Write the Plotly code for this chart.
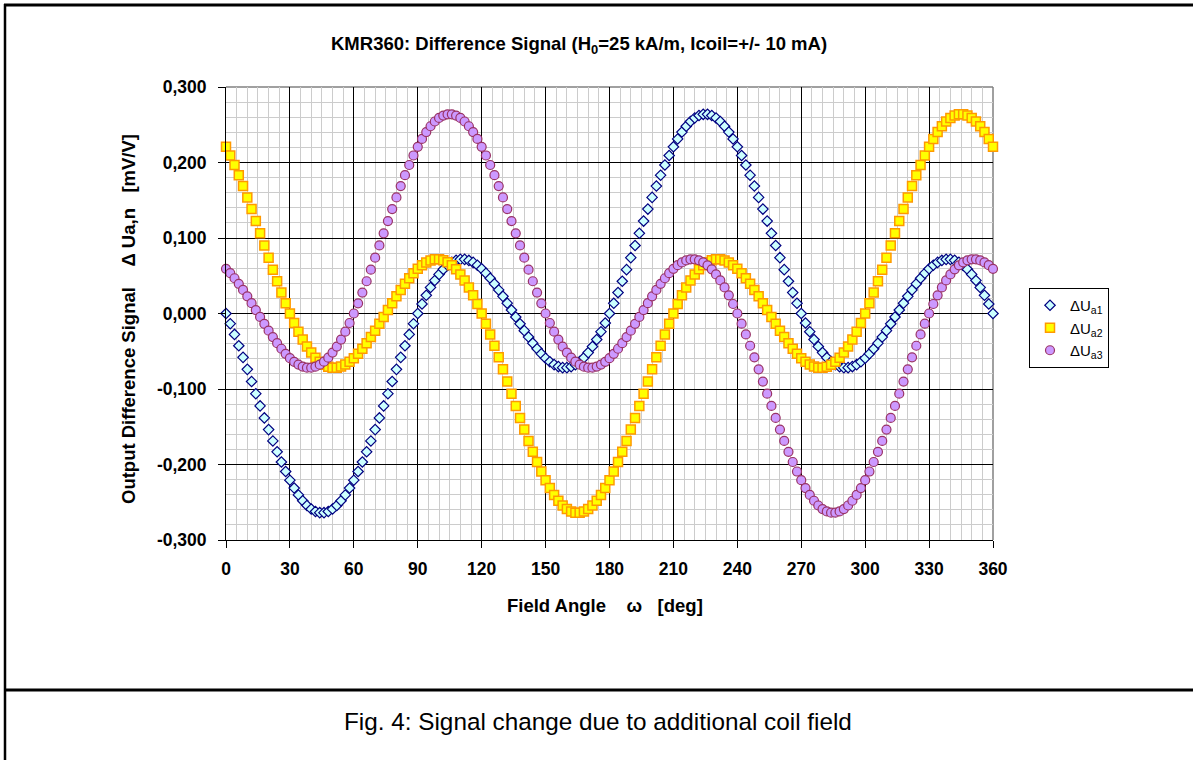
import plotly.graph_objects as go

# ---------------- data ----------------
angle_deg = list(range(0, 361, 2))

dUa1 = [
    0.0000, -0.0135, -0.0277, -0.0427, -0.0581, -0.0740, -0.0901, -0.1062, -0.1224, -0.1383,
    -0.1538, -0.1688, -0.1832, -0.1967, -0.2093, -0.2208, -0.2312, -0.2403, -0.2480, -0.2543,
    -0.2590, -0.2622, -0.2638, -0.2638, -0.2622, -0.2590, -0.2543, -0.2480, -0.2403, -0.2312,
    -0.2208, -0.2093, -0.1967, -0.1832, -0.1688, -0.1538, -0.1383, -0.1224, -0.1062, -0.0901,
    -0.0740, -0.0581, -0.0427, -0.0277, -0.0135, 0.0000, 0.0126, 0.0241, 0.0345, 0.0438,
    0.0518, 0.0585, 0.0638, 0.0678, 0.0704, 0.0717, 0.0717, 0.0703, 0.0677, 0.0640,
    0.0592, 0.0534, 0.0467, 0.0393, 0.0312, 0.0227, 0.0137, 0.0046, -0.0046, -0.0137,
    -0.0227, -0.0312, -0.0393, -0.0467, -0.0534, -0.0592, -0.0640, -0.0677, -0.0703, -0.0717,
    -0.0717, -0.0704, -0.0678, -0.0638, -0.0585, -0.0518, -0.0438, -0.0345, -0.0241, -0.0126,
    0.0000, 0.0135, 0.0277, 0.0427, 0.0581, 0.0740, 0.0901, 0.1062, 0.1224, 0.1383,
    0.1538, 0.1688, 0.1832, 0.1967, 0.2093, 0.2208, 0.2312, 0.2403, 0.2480, 0.2543,
    0.2590, 0.2622, 0.2638, 0.2638, 0.2622, 0.2590, 0.2543, 0.2480, 0.2403, 0.2312,
    0.2208, 0.2093, 0.1967, 0.1832, 0.1688, 0.1538, 0.1383, 0.1224, 0.1062, 0.0901,
    0.0740, 0.0581, 0.0427, 0.0277, 0.0135, 0.0000, -0.0126, -0.0241, -0.0345, -0.0438,
    -0.0518, -0.0585, -0.0638, -0.0678, -0.0704, -0.0717, -0.0717, -0.0703, -0.0677, -0.0640,
    -0.0592, -0.0534, -0.0467, -0.0393, -0.0312, -0.0227, -0.0137, -0.0046, 0.0046, 0.0137,
    0.0227, 0.0312, 0.0393, 0.0467, 0.0534, 0.0592, 0.0640, 0.0677, 0.0703, 0.0717,
    0.0717, 0.0704, 0.0678, 0.0638, 0.0585, 0.0518, 0.0438, 0.0345, 0.0241, 0.0126,
    0.0000,
]

dUa2 = [
    0.2208, 0.2093, 0.1967, 0.1832, 0.1688, 0.1538, 0.1383, 0.1224, 0.1062, 0.0901,
    0.0740, 0.0581, 0.0427, 0.0277, 0.0135, 0.0000, -0.0126, -0.0241, -0.0345, -0.0438,
    -0.0518, -0.0585, -0.0638, -0.0678, -0.0704, -0.0717, -0.0717, -0.0703, -0.0677, -0.0640,
    -0.0592, -0.0534, -0.0467, -0.0393, -0.0312, -0.0227, -0.0137, -0.0046, 0.0046, 0.0137,
    0.0227, 0.0312, 0.0393, 0.0467, 0.0534, 0.0592, 0.0640, 0.0677, 0.0703, 0.0717,
    0.0717, 0.0704, 0.0678, 0.0638, 0.0585, 0.0518, 0.0438, 0.0345, 0.0241, 0.0126,
    0.0000, -0.0135, -0.0277, -0.0427, -0.0581, -0.0740, -0.0901, -0.1062, -0.1224, -0.1383,
    -0.1538, -0.1688, -0.1832, -0.1967, -0.2093, -0.2208, -0.2312, -0.2403, -0.2480, -0.2543,
    -0.2590, -0.2622, -0.2638, -0.2638, -0.2622, -0.2590, -0.2543, -0.2480, -0.2403, -0.2312,
    -0.2208, -0.2093, -0.1967, -0.1832, -0.1688, -0.1538, -0.1383, -0.1224, -0.1062, -0.0901,
    -0.0740, -0.0581, -0.0427, -0.0277, -0.0135, 0.0000, 0.0126, 0.0241, 0.0345, 0.0438,
    0.0518, 0.0585, 0.0638, 0.0678, 0.0704, 0.0717, 0.0717, 0.0703, 0.0677, 0.0640,
    0.0592, 0.0534, 0.0467, 0.0393, 0.0312, 0.0227, 0.0137, 0.0046, -0.0046, -0.0137,
    -0.0227, -0.0312, -0.0393, -0.0467, -0.0534, -0.0592, -0.0640, -0.0677, -0.0703, -0.0717,
    -0.0717, -0.0704, -0.0678, -0.0638, -0.0585, -0.0518, -0.0438, -0.0345, -0.0241, -0.0126,
    0.0000, 0.0135, 0.0277, 0.0427, 0.0581, 0.0740, 0.0901, 0.1062, 0.1224, 0.1383,
    0.1538, 0.1688, 0.1832, 0.1967, 0.2093, 0.2208, 0.2312, 0.2403, 0.2480, 0.2543,
    0.2590, 0.2622, 0.2638, 0.2638, 0.2622, 0.2590, 0.2543, 0.2480, 0.2403, 0.2312,
    0.2208,
]

dUa3 = [
    0.0592, 0.0534, 0.0467, 0.0393, 0.0312, 0.0227, 0.0137, 0.0046, -0.0046, -0.0137,
    -0.0227, -0.0312, -0.0393, -0.0467, -0.0534, -0.0592, -0.0640, -0.0677, -0.0703, -0.0717,
    -0.0717, -0.0704, -0.0678, -0.0638, -0.0585, -0.0518, -0.0438, -0.0345, -0.0241, -0.0126,
    0.0000, 0.0135, 0.0277, 0.0427, 0.0581, 0.0740, 0.0901, 0.1062, 0.1224, 0.1383,
    0.1538, 0.1688, 0.1832, 0.1967, 0.2093, 0.2208, 0.2312, 0.2403, 0.2480, 0.2543,
    0.2590, 0.2622, 0.2638, 0.2638, 0.2622, 0.2590, 0.2543, 0.2480, 0.2403, 0.2312,
    0.2208, 0.2093, 0.1967, 0.1832, 0.1688, 0.1538, 0.1383, 0.1224, 0.1062, 0.0901,
    0.0740, 0.0581, 0.0427, 0.0277, 0.0135, 0.0000, -0.0126, -0.0241, -0.0345, -0.0438,
    -0.0518, -0.0585, -0.0638, -0.0678, -0.0704, -0.0717, -0.0717, -0.0703, -0.0677, -0.0640,
    -0.0592, -0.0534, -0.0467, -0.0393, -0.0312, -0.0227, -0.0137, -0.0046, 0.0046, 0.0137,
    0.0227, 0.0312, 0.0393, 0.0467, 0.0534, 0.0592, 0.0640, 0.0677, 0.0703, 0.0717,
    0.0717, 0.0704, 0.0678, 0.0638, 0.0585, 0.0518, 0.0438, 0.0345, 0.0241, 0.0126,
    0.0000, -0.0135, -0.0277, -0.0427, -0.0581, -0.0740, -0.0901, -0.1062, -0.1224, -0.1383,
    -0.1538, -0.1688, -0.1832, -0.1967, -0.2093, -0.2208, -0.2312, -0.2403, -0.2480, -0.2543,
    -0.2590, -0.2622, -0.2638, -0.2638, -0.2622, -0.2590, -0.2543, -0.2480, -0.2403, -0.2312,
    -0.2208, -0.2093, -0.1967, -0.1832, -0.1688, -0.1538, -0.1383, -0.1224, -0.1062, -0.0901,
    -0.0740, -0.0581, -0.0427, -0.0277, -0.0135, 0.0000, 0.0126, 0.0241, 0.0345, 0.0438,
    0.0518, 0.0585, 0.0638, 0.0678, 0.0704, 0.0717, 0.0717, 0.0703, 0.0677, 0.0640,
    0.0592,
]

series_names = ["ΔU<sub>a1</sub>", "ΔU<sub>a2</sub>", "ΔU<sub>a3</sub>"]

x_tick_vals = [0, 30, 60, 90, 120, 150, 180, 210, 240, 270, 300, 330, 360]
x_tick_text = ["0", "30", "60", "90", "120", "150", "180", "210", "240", "270", "300", "330", "360"]
y_tick_vals = [-0.3, -0.2, -0.1, 0.0, 0.1, 0.2, 0.3]
y_tick_text = ["-0,300", "-0,200", "-0,100", "0,000", "0,100", "0,200", "0,300"]

title_text = "KMR360: Difference Signal (H<sub>0</sub>=25 kA/m, Icoil=+/- 10 mA)"
nb = "\u00a0"
y_title_text = "Output Difference Signal" + nb * 4 + "Δ Ua,n" + nb * 3 + "[mV/V]"
x_title_text = "Field Angle" + nb * 4 + "ω" + nb * 3 + "[deg]"
caption_text = "Fig. 4: Signal change due to additional coil field"

# ---------------- figure ----------------
FONT = "Liberation Sans, Arial, Helvetica, sans-serif"
W, H = 1193, 760
ML, MR, MT, MB = 226, 200, 87, 220
PW, PH = W - ML - MR, H - MT - MB


def px_x(p):
    return (p - ML) / PW


def px_y(p):
    return (H - MB - p) / PH


fig = go.Figure()

styles = [
    dict(symbol="diamond", size=8, color="#CCFFFF", line=dict(color="#000080", width=1.2)),
    dict(symbol="square", size=9, color="#FFFF00", line=dict(color="#FF9900", width=1.5)),
    dict(symbol="circle", size=9, color="#CC99FF", line=dict(color="#993366", width=1.2)),
]
for name, ys, st in zip(series_names, [dUa1, dUa2, dUa3], styles):
    fig.add_trace(go.Scatter(x=angle_deg, y=ys, mode="markers", name=name,
                             marker=st, cliponaxis=False))

tickfont = dict(family=FONT, size=17.5, color="#000000", weight="bold")

fig.update_layout(
    width=W, height=H,
    margin=dict(l=ML, r=MR, t=MT, b=MB, pad=0),
    paper_bgcolor="#FFFFFF", plot_bgcolor="#FFFFFF",
    showlegend=True,
    legend=dict(x=px_x(1029), y=px_y(288), xanchor="left", yanchor="top",
                bordercolor="#000000", borderwidth=1, bgcolor="#FFFFFF",
                font=dict(family=FONT, size=15, color="#000000"),
                itemwidth=30, tracegroupgap=0),
    xaxis=dict(range=[0, 360], tickmode="array", tickvals=x_tick_vals, ticktext=x_tick_text,
               showgrid=True, gridcolor="#000000", gridwidth=1,
               ticks="outside", ticklen=7, tickcolor="#000000", tickwidth=1,
               showline=True, linecolor="#000000", linewidth=1, zeroline=False,
               tickfont=tickfont, ticklabelstandoff=6,
               minor=dict(tickmode="linear", tick0=0, dtick=5, showgrid=True,
                          gridcolor="#CCCCCC", gridwidth=1, ticks=""),
               fixedrange=True),
    yaxis=dict(range=[-0.3, 0.3], tickmode="array", tickvals=y_tick_vals, ticktext=y_tick_text,
               showgrid=True, gridcolor="#000000", gridwidth=1,
               ticks="outside", ticklen=7, tickcolor="#000000", tickwidth=1,
               showline=True, linecolor="#000000", linewidth=1, zeroline=False,
               tickfont=tickfont, ticklabelstandoff=8,
               minor=dict(tickmode="linear", tick0=-0.3, dtick=0.02, showgrid=True,
                          gridcolor="#CCCCCC", gridwidth=1, ticks=""),
               fixedrange=True),
)

fig.add_annotation(text=title_text, xref="paper", yref="paper",
                   x=px_x(579), y=px_y(45), xanchor="center", yanchor="middle",
                   showarrow=False, font=dict(family=FONT, size=18.5, color="#000000", weight="bold"))
fig.add_annotation(text=y_title_text, xref="paper", yref="paper", textangle=-90,
                   x=px_x(128), y=px_y(319), xanchor="center", yanchor="middle",
                   showarrow=False, font=dict(family=FONT, size=18.5, color="#000000", weight="bold"))
fig.add_annotation(text=x_title_text, xref="paper", yref="paper",
                   x=px_x(605), y=px_y(605), xanchor="center", yanchor="middle",
                   showarrow=False, font=dict(family=FONT, size=18.5, color="#000000", weight="bold"))
fig.add_annotation(text=caption_text, xref="paper", yref="paper",
                   x=px_x(598), y=px_y(721), xanchor="center", yanchor="middle",
                   showarrow=False, font=dict(family=FONT, size=24.3, color="#000000"))

# plot-area border (grey top/right)
fig.add_shape(type="line", xref="paper", yref="paper", x0=0, x1=1, y0=1, y1=1,
              line=dict(color="#808080", width=1.5), layer="between")
fig.add_shape(type="line", xref="paper", yref="paper", x0=1, x1=1, y0=0, y1=1,
              line=dict(color="#808080", width=1.5), layer="between")

# outer frame lines
fig.add_shape(type="line", xref="paper", yref="paper", x0=px_x(4), x1=px_x(1194),
              y0=px_y(5), y1=px_y(5), line=dict(color="#000000", width=3))
fig.add_shape(type="line", xref="paper", yref="paper", x0=px_x(5), x1=px_x(5),
              y0=px_y(4), y1=px_y(761), line=dict(color="#000000", width=2.5))
fig.add_shape(type="line", xref="paper", yref="paper", x0=px_x(4), x1=px_x(1194),
              y0=px_y(690), y1=px_y(690), line=dict(color="#000000", width=3))

fig.write_html(
    "out.html",
    config={"displayModeBar": False},
    post_script="document.body.style.margin='0px';document.body.style.overflow='hidden';",
)
